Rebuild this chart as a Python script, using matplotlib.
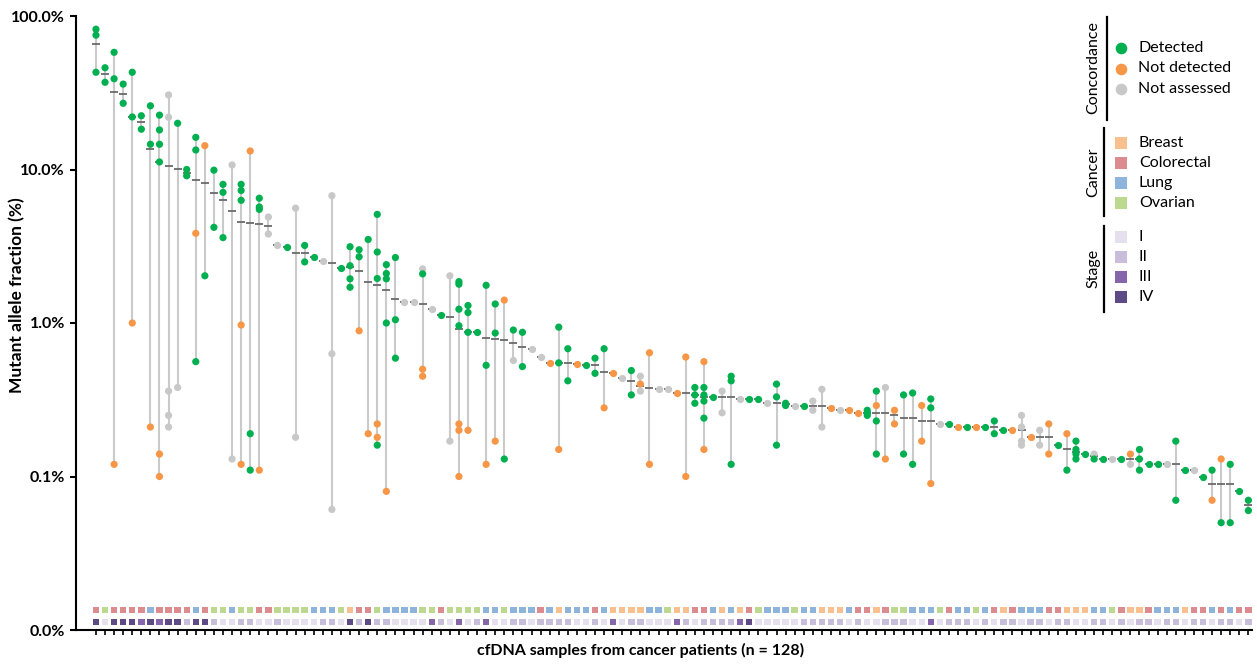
import numpy as np
import matplotlib.pyplot as plt

plt.rcParams['font.family'] = ['Lato', 'DejaVu Sans']

# mutant allele fraction (%) of each sample, ordered by median
points = [
    [82, 75, 43], [46, 37], [58, 39, 0.12], [36, 27], [43, 22, 1.0],
    [22.4, 18.3], [26, 14.6, 0.21], [22.6, 18.1, 14.6, 11.2, 0.14, 0.10],
    [30.6, 21.9, 0.36, 0.25, 0.21], [20, 0.38], [10, 9.1], [16.2, 13.4, 3.84, 0.56],
    [14.3, 2.03], [9.9, 4.2], [8.0, 7.1, 3.6], [10.7, 0.13], [8.0, 7.3, 6.3, 0.97, 0.12],
    [13.2, 0.19, 0.11], [6.5, 5.7, 5.5, 0.11], [4.9, 3.8], [3.2], [3.14],
    [5.6, 0.18], [3.2, 2.5], [2.68], [2.55], [6.75, 0.63, 0.061], [2.29],
    [3.14, 2.36, 1.94, 1.71], [3.0, 2.7, 0.89], [3.5, 0.19],
    [5.1, 2.9, 1.95, 0.22, 0.18, 0.16], [2.4, 2.1, 1.94, 1.0, 0.08], [2.67, 1.05, 0.59],
    [1.38], [1.38], [2.25, 2.09, 0.5, 0.45], [1.24], [1.12], [2.03, 0.17],
    [1.86, 1.79, 1.23, 0.96, 0.22, 0.2, 0.1], [1.3, 1.17, 0.87, 0.2], [0.87],
    [1.76, 0.53, 0.12], [1.33, 0.86, 0.17], [1.41, 0.13], [0.9, 0.57], [0.87, 0.52],
    [0.68], [0.60], [0.55], [0.94, 0.55, 0.15], [0.68, 0.42], [0.54], [0.53],
    [0.59, 0.47], [0.68, 0.28], [0.47], [0.44], [0.49, 0.34], [0.45, 0.40, 0.36],
    [0.64, 0.12], [0.37], [0.37], [0.35], [0.60, 0.10], [0.38, 0.34, 0.30],
    [0.56, 0.38, 0.34, 0.31, 0.24, 0.15], [0.33], [0.36, 0.26], [0.45, 0.42, 0.12],
    [0.32], [0.32], [0.32], [0.30], [0.40, 0.33, 0.16], [0.30, 0.29], [0.29], [0.29],
    [0.31, 0.27], [0.37, 0.21], [0.28], [0.27], [0.27], [0.26], [0.27, 0.26, 0.25],
    [0.36, 0.29, 0.23, 0.14], [0.38, 0.13], [0.27, 0.22], [0.34, 0.14], [0.35, 0.12],
    [0.29, 0.17], [0.32, 0.28, 0.09], [0.22], [0.22], [0.21], [0.21], [0.21], [0.21],
    [0.23, 0.19], [0.20], [0.20], [0.25, 0.21, 0.17, 0.16], [0.18], [0.20, 0.16],
    [0.22, 0.14], [0.16], [0.19, 0.11], [0.17, 0.15, 0.14, 0.13], [0.14], [0.14, 0.13],
    [0.13], [0.13], [0.13], [0.14, 0.12], [0.15, 0.13, 0.11], [0.12], [0.12], [0.12],
    [0.17, 0.07], [0.11], [0.11], [0.10], [0.11, 0.07], [0.13, 0.05], [0.12, 0.05],
    [0.08], [0.07, 0.06],
]
# G = detected, O = not detected, N = not assessed
calls = [
    "GGG", "GG", "GGO", "GG", "GGO", "GG", "GGO", "GGGGOO", "NNNNN", "GN", "GG", "GGOG",
    "OG", "GG", "GGG", "NN", "GGGOO", "OGG", "GGGO", "NN", "N", "G", "NN", "GG", "G", "N",
    "NNN", "G", "GGGG", "GGO", "GO", "GGGOOG", "GGGGO", "GGG", "N", "N", "NGOO", "N", "G",
    "NN", "GGGGOOO", "GGGO", "G", "GGO", "GGO", "OG", "GN", "GG", "N", "N", "O", "GGO",
    "GG", "O", "G", "GG", "GO", "O", "N", "GG", "NON", "OO", "N", "N", "O", "OO", "GGG",
    "OGGGGO", "G", "NN", "GGG", "N", "G", "G", "N", "GGG", "GG", "N", "G", "NN", "NN", "O",
    "N", "O", "O", "GGG", "GOGG", "NO", "OO", "GG", "GG", "OO", "GGO", "N", "G", "O", "G",
    "O", "G", "GG", "G", "O", "NNNN", "O", "NN", "OO", "G", "OG", "GGGG", "G", "NG", "G",
    "N", "G", "ON", "GGG", "G", "G", "N", "GG", "G", "N", "G", "GO", "OG", "GG", "G", "GG",
]
medians = [
    66, 42, 32, 31, 22, 20.3, 13.6, 11.2, 10.6, 10.1, 9.5, 8.5, 8.2, 7.0, 6.3, 5.4, 4.55,
    4.48, 4.43, 4.3, 3.2, 3.14, 2.87, 2.84, 2.68, 2.55, 2.46, 2.29, 2.31, 2.19, 1.86, 1.76,
    1.65, 1.44, 1.38, 1.38, 1.33, 1.24, 1.12, 1.09, 0.91, 0.87, 0.87, 0.80, 0.79, 0.77,
    0.74, 0.70, 0.68, 0.60, 0.55, 0.55, 0.55, 0.54, 0.53, 0.53, 0.48, 0.47, 0.44, 0.42,
    0.39, 0.38, 0.37, 0.37, 0.35, 0.35, 0.34, 0.33, 0.33, 0.33, 0.33, 0.32, 0.32, 0.32,
    0.30, 0.30, 0.295, 0.29, 0.29, 0.29, 0.29, 0.28, 0.27, 0.27, 0.26, 0.26, 0.26, 0.26,
    0.25, 0.24, 0.24, 0.23, 0.23, 0.22, 0.22, 0.21, 0.21, 0.21, 0.21, 0.21, 0.20, 0.20,
    0.20, 0.18, 0.18, 0.18, 0.16, 0.15, 0.145, 0.14, 0.135, 0.13, 0.13, 0.13, 0.13, 0.13,
    0.12, 0.12, 0.12, 0.12, 0.11, 0.11, 0.10, 0.09, 0.09, 0.09, 0.08, 0.065,
]
# B = breast, C = colorectal, L = lung, O = ovarian
cancer = ("COCCCCLCCCCLC" "OOLOOCCOOOOLLLO" "BCCOLLLLOOCOOOO" "LLOLLLCLBLLLCLB" "BBBL"
          "LOBBCCLBLBCOLLL" "OLLBBBLCCBCOOLL" "LOCLLOLCBCLLLCC" "BBBLLOCBBCLLLBC" "CLCLCC")
stage = ("4144434344244" "211221121111221" "424221111321312" "311221222211213"
         "122111321222234" "111112222212112" "221131222121221" "221221122121221" "2212212212")

conc_col = {'G': '#00b050', 'O': '#f79646', 'N': '#c8c8c8'}
cancer_col = {'B': '#f9c08f', 'C': '#dc8c8e', 'L': '#8fb4dc', 'O': '#bcd98f'}
stage_col = {'1': '#e6e0ee', '2': '#c9bddc', '3': '#8566aa', '4': '#5e4a85'}

fig = plt.figure(figsize=(12.57, 6.64), dpi=100)
ax = fig.add_axes([76/1257, 34/664, 1176/1257, 614/664])

for i in range(len(points)):
    p = points[i]
    if len(p) > 1:
        ax.plot([i, i], [min(p), max(p)], color='#cacaca', lw=1.5, zorder=1)
    ax.plot(i, medians[i], marker='_', ms=5.5, mew=1.3, color='#6a6a6a', zorder=2)
    ax.scatter([i]*len(p), p, s=27, c=[conc_col[k] for k in calls[i]], linewidths=0, zorder=3)

x = np.arange(len(points))
tr = ax.get_xaxis_transform()
ax.scatter(x, [0.033]*len(x), transform=tr, marker='s', s=21, linewidths=0,
           c=[cancer_col[k] for k in cancer], clip_on=False)
ax.scatter(x, [0.013]*len(x), transform=tr, marker='s', s=21, linewidths=0,
           c=[stage_col[k] for k in stage], clip_on=False)

ax.set_yscale('log')
ax.set_ylim(0.01, 100)
ax.set_xlim(-2.2, 127.4)
ax.set_yticks([0.01, 0.1, 1, 10, 100])
ax.set_yticklabels(['0.0%', '0.1%', '1.0%', '10.0%', '100.0%'], fontsize=11.5, fontweight='bold')
ax.yaxis.set_minor_locator(plt.NullLocator())
ax.set_xticks(x)
ax.set_xticklabels([])
ax.tick_params(axis='x', length=3.5, width=1.2)
ax.tick_params(axis='y', length=4.5, width=1.5)
for s in ['top', 'right']:
    ax.spines[s].set_visible(False)
for s in ['left', 'bottom']:
    ax.spines[s].set_linewidth(1.5)

ax.set_ylabel('Mutant allele fraction (%)', fontsize=12.5, fontweight='bold')
ax.yaxis.set_label_coords(-0.043, 0.545)
ax.set_xlabel('cfDNA samples from cancer patients (n = 128)', fontsize=11.5, fontweight='bold')
ax.xaxis.set_label_coords(0.48, -0.021)

# legend drawn in pixel coordinates
lax = fig.add_axes([0, 0, 1, 1], zorder=5)
lax.set_xlim(0, 1257)
lax.set_ylim(664, 0)
lax.axis('off')
lax.patch.set_alpha(0)

lax.plot([1107, 1107], [17, 120], color='black', lw=1.6)
lax.text(1093, 68, 'Concordance', rotation=90, ha='center', va='center', fontsize=11.5)
for k, (code, name) in enumerate(zip('GON', ['Detected', 'Not detected', 'Not assessed'])):
    lax.scatter(1121, 48 + 20.5*k, s=70, color=conc_col[code], linewidths=0)
    lax.text(1138, 48 + 20.5*k, name, va='center', fontsize=11.5)

lax.plot([1104, 1104], [128, 216], color='black', lw=1.6)
lax.text(1093, 172, 'Cancer', rotation=90, ha='center', va='center', fontsize=11.5)
for k, (code, name) in enumerate(zip('BCLO', ['Breast', 'Colorectal', 'Lung', 'Ovarian'])):
    lax.scatter(1121, 143 + 20*k, s=70, marker='s', color=cancer_col[code], linewidths=0)
    lax.text(1139, 143 + 20*k, name, va='center', fontsize=11.5)

lax.plot([1104, 1104], [226, 312], color='black', lw=1.6)
lax.text(1093, 268, 'Stage', rotation=90, ha='center', va='center', fontsize=11.5)
for k, name in enumerate(['I', 'II', 'III', 'IV']):
    lax.scatter(1121, 237 + 20*k, s=70, marker='s', color=stage_col[str(k + 1)], linewidths=0)
    lax.text(1139, 237 + 20*k, name, va='center', fontsize=11.5)

fig.savefig('out.png', dpi=100)
